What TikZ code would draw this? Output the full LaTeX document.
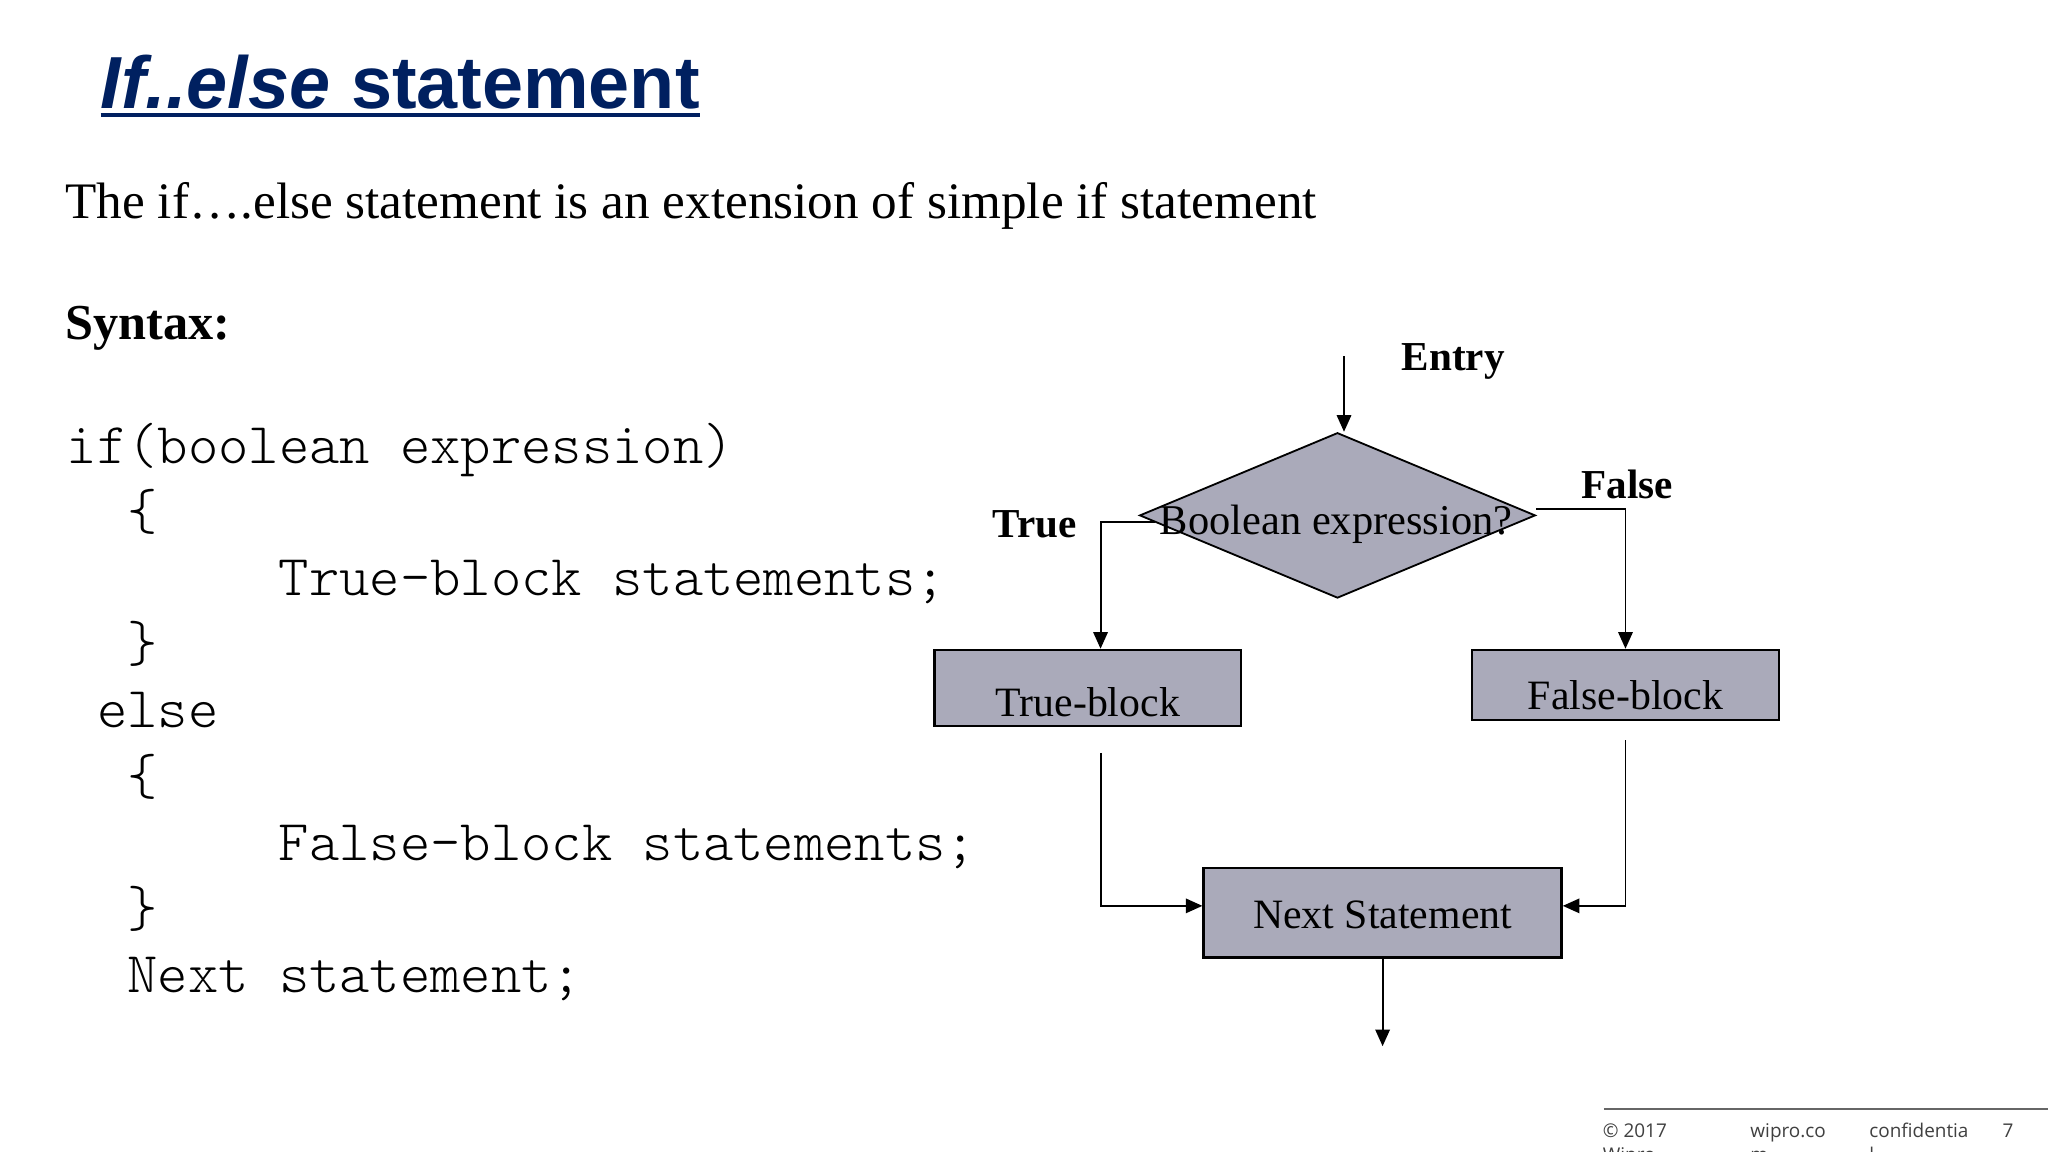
\documentclass[tikz,border=0pt]{standalone}
\usepackage{fontspec}
\setmainfont{Liberation Serif}
\newfontfamily\sansf{Liberation Sans}
\newfontfamily\monof{Latin Modern Mono Light}
\newfontfamily\footf{Open Sans}
\usetikzlibrary{arrows.meta,shapes.geometric,calc}
\definecolor{navy}{RGB}{0,32,96}
\definecolor{boxgray}{RGB}{170,170,186}
\definecolor{footgray}{RGB}{64,64,64}
\begin{document}
\begin{tikzpicture}[x=1pt,y=-1pt,
  txt/.style={inner sep=0pt,anchor=base west},
  code/.style={txt,font=\monof\fontsize{44.2}{52}\selectfont},
  blk/.style={draw=black,line width=1.8pt,fill=boxgray,inner xsep=0pt,inner ysep=0pt,font=\fontsize{32}{38}\selectfont},
  arr/.style={line width=1.5pt,-{Triangle[length=12.7pt,width=11pt]}},
  lbl/.style={txt,font=\bfseries\fontsize{31.5}{38}\selectfont},
  foot/.style={txt,font=\footf\fontsize{14.5}{18}\selectfont,text=footgray}]
\useasboundingbox (0,0) rectangle (1568,882);
\fill[white] (0,0) rectangle (1568,882);
% title
\node[txt,text=navy,font=\sansf\bfseries\fontsize{56.5}{66}\selectfont] (title) at (77,82.8) {\itshape If..else\upshape{} statement};
\draw[navy,line width=2.6pt] ([yshift=-5.2pt]title.base west) -- ([yshift=-5.2pt]title.base east);
% body
\node[txt,font=\fontsize{39.2}{47}\selectfont] (intro) at (50,167) {The if….else statement is an extension of simple if statement};
\node[txt,font=\bfseries\fontsize{38.5}{46}\selectfont] (syntax) at (50,260) {Syntax:};
% code
\node[code] (c1) at (51,354.5) {if(boolean expression)};
\node[code] (c2) at (97.4,405.2) {\{};
\node[code] (c3) at (213.4,455.9) {True-block statements;};
\node[code] (c4) at (97.4,506.6) {\}};
\node[code] (c5) at (74.2,557.3) {else};
\node[code] (c6) at (97.4,608) {\{};
\node[code] (c7) at (213.4,658.7) {False-block statements;};
\node[code] (c8) at (97.4,709.4) {\}};
\node[code] (c9) at (97.4,760.1) {Next statement;};
% flowchart
\node[diamond,draw=black,line width=1.4pt,fill=boxgray,minimum width=303pt,minimum height=126.6pt,inner sep=0pt] (bool) at (1024,394.6) {};
\node[inner sep=0pt,anchor=base,font=\fontsize{32.5}{38}\selectfont] (booltxt) at (1023,409.6) {Boolean expression?};
\node[blk,minimum width=234.7pt,text height=51.3pt,text depth=6.9pt] (tblock) at (832.85,526.7) {True-block};
\node[blk,minimum width=235pt,text height=45.6pt,text depth=7.8pt] (fblock) at (1244.5,524.3) {False-block};
\node[blk,minimum width=274.1pt,text height=46.3pt,text depth=22pt] (next) at (1058.55,698.85) {Next Statement};
\node[lbl] (entry) at (1073,283.8) {Entry};
\node[lbl] (falselbl) at (1210.6,382) {False};
\node[lbl] (truelbl) at (760,411.5) {True};
\coordinate (entrystart) at (1029,272.6);
\coordinate (tl) at (884,399.4);
\coordinate (fr) at (1176,389.9);
\coordinate (tb) at (842.6,576.4);
\coordinate (fb) at (1244.5,566.6);
\coordinate (exitpt) at (1058.55,801);
\draw[arr] (entrystart) -- (entrystart |- bool.north);
\draw[arr] (tl) -| ([xshift=9.75pt]tblock.north);
\draw[arr] (fr) -| (fblock.north);
\draw[arr] (tb) |- ([yshift=5.3pt]next.west);
\draw[arr] (fb) |- ([yshift=5.3pt]next.east);
\draw[arr] (next.south) -- (exitpt);
% footer
\coordinate (fla) at (1228,849);
\coordinate (flb) at (1568,849);
\draw[footgray!80,line width=1.2pt] (fla) -- (flb);
\node[foot] (f1) at (1227,871) {© 2017};
\node[foot] (f1b) at (1227,889) {Wipro};
\node[foot] (f2) at (1340,871) {wipro.co};
\node[foot] (f2b) at (1340,889) {m};
\node[foot] (f3) at (1431,871) {confidentia};
\node[foot] (f3b) at (1431,889) {l};
\node[foot] (f4) at (1533,871) {7};
\end{tikzpicture}
\end{document}
